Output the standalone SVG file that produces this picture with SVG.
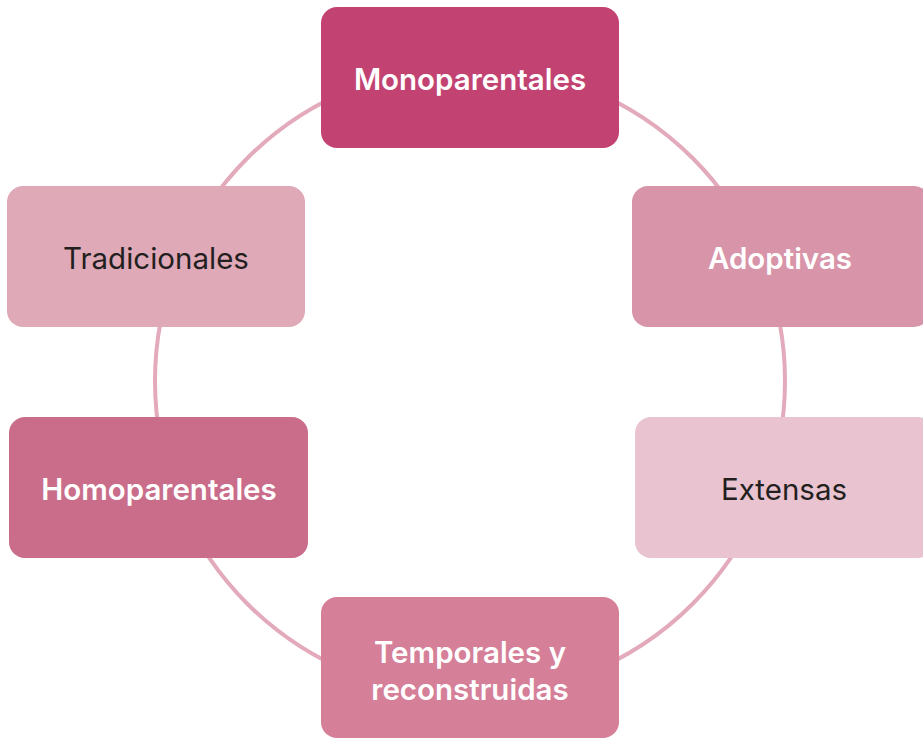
<svg xmlns="http://www.w3.org/2000/svg" width="923" height="738" viewBox="0 0 923 738">
<style>
.box{stroke:none}
.t{font-family:Inter,"Liberation Sans",sans-serif;font-size:29.5px;text-anchor:middle}
.w{fill:#ffffff;font-weight:600}
.d{fill:#231f20;font-weight:400}
.ring{fill:none;stroke:#e3aabb;stroke-width:4}
</style>
<rect width="923" height="738" fill="#ffffff"/>
<g id="connectors">
<circle class="ring" cx="470" cy="381" r="315"/>
</g>
<g id="monoparentales">
<rect class="box" x="321" y="7" width="298" height="141" rx="16" fill="#c24372"/>
<text class="t w" x="470" y="90">Monoparentales</text>
</g>
<g id="tradicionales">
<rect class="box" x="7" y="186" width="298" height="141" rx="16" fill="#e0a9b8"/>
<text class="t d" x="156" y="269">Tradicionales</text>
</g>
<g id="adoptivas">
<rect class="box" x="632" y="186" width="298" height="141" rx="16" fill="#d894a8"/>
<text class="t w" x="780" y="269">Adoptivas</text>
</g>
<g id="homoparentales">
<rect class="box" x="9" y="417" width="299" height="141" rx="16" fill="#c96d8a"/>
<text class="t w" x="159" y="500">Homoparentales</text>
</g>
<g id="extensas">
<rect class="box" x="635" y="417" width="298" height="141" rx="16" fill="#e9c3cf"/>
<text class="t d" x="784" y="500">Extensas</text>
</g>
<g id="temporales">
<rect class="box" x="321" y="597" width="298" height="141" rx="16" fill="#d57f99"/>
<text class="t w" x="470" y="663">Temporales y</text>
<text class="t w" x="470" y="700">reconstruidas</text>
</g>
</svg>
